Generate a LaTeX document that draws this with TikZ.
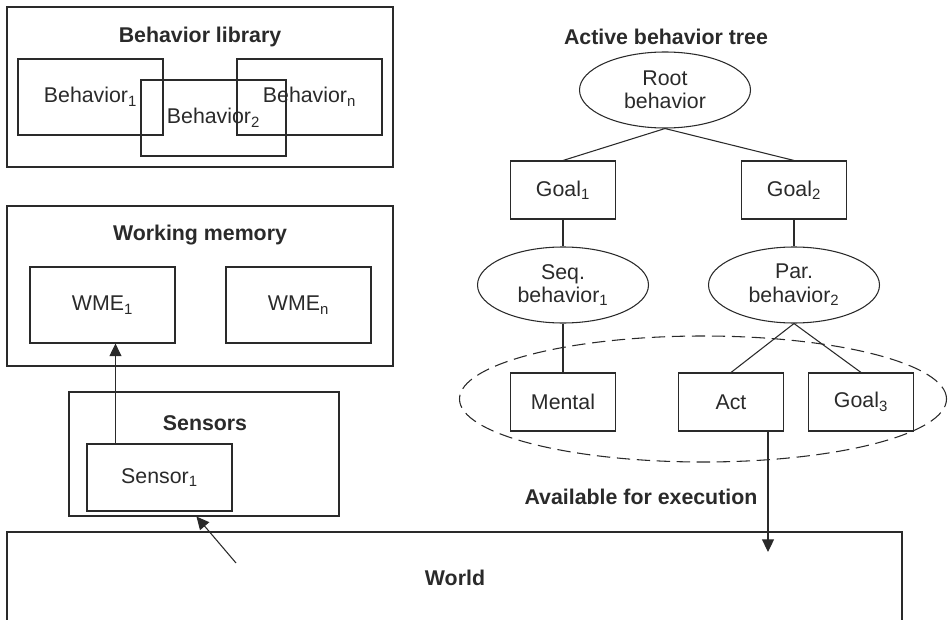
\documentclass[tikz,border=0pt]{standalone}
\usepackage{fontspec}
\setmainfont{Liberation Sans}
\usetikzlibrary{positioning,calc,shapes.geometric,arrows.meta}
\definecolor{ink}{HTML}{2A2A2A}

\begin{document}
\begin{tikzpicture}[x=0.75pt,y=-0.75pt,font=\fontsize{16}{17.5}\selectfont,color=ink,line width=0.8pt,
  frame/.style={draw,rectangle,inner sep=0pt},
  box/.style={draw,rectangle,inner sep=0pt,minimum width=108.75pt,minimum height=57pt},
  gbox/.style={draw,rectangle,inner sep=0pt,minimum width=78.75pt,minimum height=43.5pt},
  oval/.style={draw,ellipse,inner sep=0pt,minimum width=128.25pt,minimum height=57pt,align=center},
  title/.style={font=\fontsize{16}{17.5}\selectfont\bfseries},
  arr/.style={-{Triangle[length=9.5pt,width=9pt]}}]
  \clip (0,0) rectangle (948,620);
  % ---- Behavior library ----
  \node[frame,minimum width=289.5pt,minimum height=120pt] (lib) at (200,87) {};
  \node[title] (libt) at (200,37) {Behavior library};
  \node[box] (beh1) at (90.5,97) {Behavior\textsubscript{1}};
  \node[box] (beh2) at (213.5,118) {Behavior\textsubscript{2}};
  \node[box] (behn) at (309.5,97) {Behavior\textsubscript{n}};
  % ---- Working memory ----
  \node[frame,minimum width=289.5pt,minimum height=120pt] (wm) at (200,286) {};
  \node[title] (wmt) at (200,235) {Working memory};
  \node[box] (wme1) at (102.5,305) {WME\textsubscript{1}};
  \node[box] (wmen) at (298.5,305) {WME\textsubscript{n}};
  % ---- Sensors ----
  \node[frame,minimum width=202.5pt,minimum height=93pt] (sens) at (204,454) {};
  \node[title] (senst) at (205,423) {Sensors};
  \node[box,minimum height=50.25pt] (sensor1) at (159.5,477.5) {Sensor\textsubscript{1}};
  \coordinate (sensup) at ($(sensor1.north west)+(29,0)$);
  \draw[arr] (sensup) -- (sensup |- wme1.south);
  % ---- World ----
  \node[frame,minimum width=671.25pt,minimum height=81pt] (world) at (454.5,586) {};
  \node[title] (worldt) at (455,578) {World};
  \coordinate (wsrc) at (236,563);
  \draw[arr] (wsrc) -- ($(sens.south west)+(128,0)$);
  % ---- Active behavior tree ----
  \node[title] (treet) at (666,37) {Active behavior tree};
  \node[oval] (root) at (665,90) {Root\\behavior};
  \node[gbox] (goal1) at (563,190) {Goal\textsubscript{1}};
  \node[gbox] (goal2) at (794,190) {Goal\textsubscript{2}};
  \node[oval] (seq) at (563,285) {Seq.\\behavior\textsubscript{1}};
  \node[oval] (par) at (794,285) {Par.\\behavior\textsubscript{2}};
  \node[gbox] (mental) at (563,402) {Mental};
  \node[gbox] (act) at (731,402) {Act};
  \node[gbox] (goal3) at (861,402) {Goal\textsubscript{3}};
  \draw (root.south) -- (goal1.north);
  \draw (root.south) -- (goal2.north);
  \draw (goal1) -- (seq);
  \draw (goal2) -- (par);
  \draw (seq) -- (mental);
  \draw (par.south) -- (act.north);
  \draw (par.south) -- (goal3.north);
  % ---- leaves ready to run ----
  \node[draw,ellipse,dash pattern=on 10pt off 5pt,inner sep=0pt,minimum width=365.25pt,minimum height=94.5pt] (avail) at (703,399) {};
  \node[title] (availt) at (641,497) {Available for execution};
  \coordinate (exec) at (768,552);
  \draw[arr] (act.south -| exec) -- (exec);
\end{tikzpicture}
\end{document}
